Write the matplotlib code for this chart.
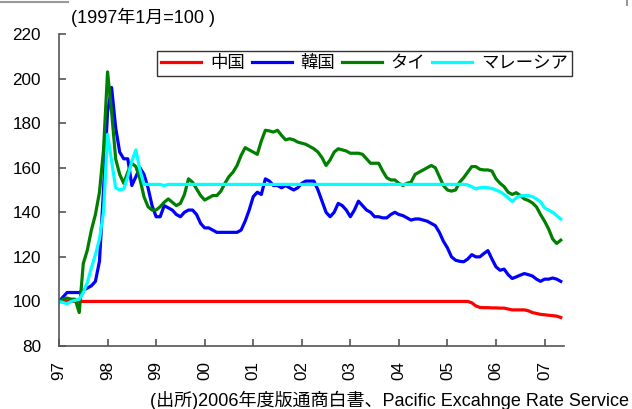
import matplotlib
matplotlib.use("Agg")
import matplotlib.pyplot as plt
from matplotlib.lines import Line2D
import numpy as np

plt.rcParams['font.family'] = ['Liberation Sans', 'Noto Sans CJK JP', 'DejaVu Sans']

# Monthly index (Jan 1997 = 100), Jan 1997 .. May 2007
year_labels = ['97', '98', '99', '00', '01', '02', '03', '04', '05', '06', '07']
series_names = ['中国', '韓国', 'タイ', 'マレーシア']

china = [
    100, 100, 100, 100, 100, 100, 100, 100, 100, 100,
    100, 100, 100, 100, 100, 100, 100, 100, 100, 100,
    100, 100, 100, 100, 100, 100, 100, 100, 100, 100,
    100, 100, 100, 100, 100, 100, 100, 100, 100, 100,
    100, 100, 100, 100, 100, 100, 100, 100, 100, 100,
    100, 100, 100, 100, 100, 100, 100, 100, 100, 100,
    100, 100, 100, 100, 100, 100, 100, 100, 100, 100,
    100, 100, 100, 100, 100, 100, 100, 100, 100, 100,
    100, 100, 100, 100, 100, 100, 100, 100, 100, 100,
    100, 100, 100, 100, 100, 100, 100, 100, 100, 100,
    100, 100, 99.4, 98.0, 97.3, 97.2, 97.2, 97.1, 97.1, 97.0,
    97.0, 96.6, 96.2, 96.2, 96.2, 96.2, 95.8, 95.0, 94.6, 94.2,
    94.0, 93.8, 93.6, 93.4, 92.8,
]

korea = [
    100, 102, 104, 104, 104, 104, 105, 106, 107, 109,
    118, 150, 185, 196, 178, 167, 164, 164, 152, 156,
    160, 157, 151, 143, 138, 138, 143, 142, 141, 139,
    138, 140, 141, 141, 139, 135, 133, 133, 132, 131,
    131, 131, 131, 131, 131, 132, 136, 141, 147, 149,
    148, 155, 154, 152, 152, 151, 152, 151, 150, 151,
    153, 154, 154, 154, 150, 145, 140, 138, 140, 144,
    143, 141, 138, 141, 145, 143, 141, 140, 138, 138,
    137.5, 137.5, 139, 140, 139, 138.5, 137.5, 136.5, 137, 137,
    136.5, 136, 135, 134, 131, 127, 124, 120, 118.5, 118,
    117.8, 119, 121, 120, 120, 121.5, 122.8, 119, 115.5, 114,
    114.5, 112, 110.3, 111, 111.8, 112.5, 112, 111.4, 110, 109,
    110, 110, 110.5, 110, 109,
]

thailand = [
    100, 101, 101.5, 101, 101, 95, 117, 123, 132, 139,
    149, 168, 203, 185, 164, 157, 153, 158, 162, 160.5,
    155, 147, 142.5, 141, 141, 142.5, 144.5, 146, 144.5, 143,
    144, 148, 155, 153.5, 150.5, 147.5, 145.5, 146.5, 147.5, 147.5,
    149.5, 153, 156, 158, 161, 165.5, 169, 168, 167, 166,
    172, 176.8, 176.5, 176, 176.8, 174.5, 172.5, 173, 172.5, 171.5,
    171, 170.5, 169.5, 168.5, 167, 164.5, 161, 163.5, 167, 168.5,
    168, 167.5, 166.5, 166.5, 166.5, 166, 164, 162, 162, 162,
    158.5, 155.5, 154.5, 154.5, 153, 152, 153, 153.5, 157, 158,
    159, 160, 161, 160, 156, 152, 150, 149.5, 150, 153.5,
    155.5, 158, 160.5, 160.5, 159.3, 159, 159, 158.5, 155, 153,
    151.5, 149, 148, 148.8, 147.5, 146, 145.3, 144.2, 142.4, 139,
    136, 132.5, 128, 126, 127.5,
]

malaysia = [
    100, 99.5, 99, 100, 100.5, 101, 104, 108.5, 115, 121,
    128, 140, 175, 163, 151, 150, 150.5, 156, 163, 168,
    159, 152.5, 152.5, 152.5, 152.5, 152.5, 152, 152.5, 152.5, 152.5,
    152.5, 152.5, 152.5, 152.5, 152.5, 152.5, 152.5, 152.5, 152.5, 152.5,
    152.5, 152.5, 152.5, 152.5, 152.5, 152.5, 152.5, 152.5, 152.5, 152.5,
    152.5, 152.5, 152.5, 152.5, 152.5, 152.5, 152.5, 152.5, 152.5, 152.5,
    152.5, 152.5, 152.5, 152.5, 152.5, 152.5, 152.5, 152.5, 152.5, 152.5,
    152.5, 152.5, 152.5, 152.5, 152.5, 152.5, 152.5, 152.5, 152.5, 152.5,
    152.5, 152.5, 152.5, 152.5, 152.5, 152.5, 152.5, 152.5, 152.5, 152.5,
    152.5, 152.5, 152.5, 152.5, 152.5, 152.5, 152.5, 152.5, 152.5, 152.5,
    152.5, 152.3, 151.5, 150.5, 151, 151.2, 151, 150.7, 150, 149.2,
    148, 146.5, 144.8, 146.5, 147.3, 147.5, 147.5, 147, 146, 144.7,
    142, 141, 140, 138.5, 137,
]

colors = ['#ff0000', '#0000ff', '#008000', '#00ffff']

fig = plt.figure(figsize=(6.32, 4.09), dpi=100)
ax = fig.add_axes([59/632, 1 - 346/409, (564 - 59)/632, (346 - 34)/409])

x = np.arange(len(china))
for vals, name, c in zip([china, korea, thailand, malaysia], series_names, colors):
    ax.plot(x, vals, color=c, lw=2.3, label=name, solid_joinstyle='round')

ax.set_xlim(0, 124.8)
ax.set_ylim(80, 220)
ax.set_yticks(np.arange(80, 221, 20))
ax.set_xticks(np.arange(0, 121, 12))
ax.set_xticklabels(year_labels, rotation=90)

axis_col = '#555555'
for s in ['top', 'right']:
    ax.spines[s].set_visible(False)
for s in ['left', 'bottom']:
    ax.spines[s].set_color(axis_col)
    ax.spines[s].set_linewidth(1.2)
ax.tick_params(axis='both', direction='in', length=5, width=1.2, color=axis_col,
               labelsize=12.3, labelcolor='black')
ax.tick_params(axis='y', pad=13)
ax.tick_params(axis='x', pad=11)

leg = ax.legend(loc='upper left', bbox_to_anchor=(0.194, 0.849, 0.822, 0.0965),
                mode='expand', ncol=4, frameon=True, fancybox=False,
                edgecolor='black', fontsize=12.5, handlelength=2.3,
                handletextpad=0.5, columnspacing=0.8, borderaxespad=0,
                borderpad=0.25)
leg.get_frame().set_linewidth(1.0)

fig.text(71/632, 1 - 17/409, '(1997年1月=100 )', fontsize=13, ha='left', va='center')
fig.text(150/632, 1 - 400/409, '(出所)2006年度版通商白書、Pacific Excahnge Rate Service',
         fontsize=13, ha='left', va='center')

# faint frame remnants at the top edge
fig.add_artist(Line2D([0, 68/632], [1 - 1.5/409, 1 - 1.5/409], color='#999999', lw=1.5,
                      transform=fig.transFigure))
fig.add_artist(Line2D([627/632, 627/632], [1 - 0.5/409, 1 - 5/409], color='#999999', lw=1.5,
                      transform=fig.transFigure))

fig.savefig('out.png', dpi=100)
